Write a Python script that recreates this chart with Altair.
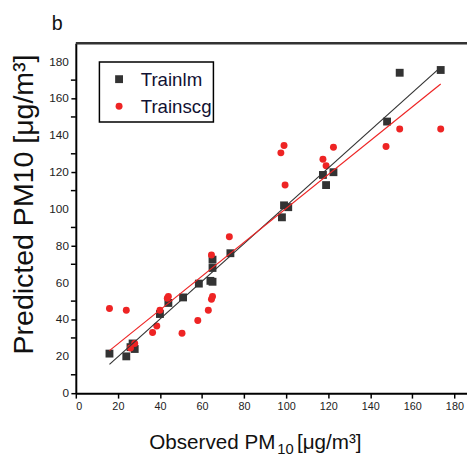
import altair as alt
import pandas as pd

# ---- data ----
lm_obs = [16, 24, 26, 27, 28, 40, 44, 51, 58.5, 64, 65, 65, 65, 73.5, 98, 99, 101, 117.5, 119, 122.5, 148, 154, 173.5]
lm_pred = [21.5, 20, 25, 27, 24, 43, 49, 52, 59.5, 61, 60.5, 68, 72.5, 76, 95.5, 102, 101, 118.5, 113, 120, 147.5, 174, 175.5]
scg_obs = [16, 24, 26, 28, 36.5, 38.5, 40, 43.5, 44, 50.5, 58, 63, 64.5, 65, 64.5, 73, 97.5, 99, 99.5, 117.5, 119, 122.5, 147.5, 154, 173.5]
scg_pred = [46, 45, 24.5, 27, 33, 36.5, 45, 51.5, 52.5, 32.5, 39.5, 45, 51, 52.5, 75, 85, 130.5, 134.5, 113, 127, 123.5, 133.5, 134, 143.5, 143.5]
series_names = ["Trainlm", "Trainscg"]
series_colors = ["#333333", "#ee2424"]
x_ticks = list(range(0, 181, 20))
y_ticks = list(range(0, 181, 20))
y_tick_labels = [str(v) for v in y_ticks]
y_minor = list(range(10, 181, 20))

df = pd.DataFrame({
    "obs": lm_obs + scg_obs,
    "pred": lm_pred + scg_pred,
    "series": [series_names[0]] * len(lm_obs) + [series_names[1]] * len(scg_obs),
})

FONT = "Liberation Sans, Arial, sans-serif"
W, H = 398, 356

xs = alt.Scale(domain=[0, 186], nice=False, zero=False)
ys = alt.Scale(domain=[0, 190], nice=False, zero=False)
color_scale = alt.Scale(domain=series_names, range=series_colors)

x_axis = alt.Axis(values=x_ticks, title=None, grid=False, domainWidth=2, domainColor="black",
                  tickColor="black", tickWidth=1.5, tickSize=5, labelFont=FONT, labelFontSize=11,
                  labelColor="#222222", labelPadding=3, labelOverlap=False)
y_axis = alt.Axis(values=y_ticks, title=None, grid=False, domainWidth=2, domainColor="black",
                  tickColor="black", tickWidth=1.5, tickSize=5, labels=False)

points = alt.Chart(df).mark_point(filled=True, opacity=1).encode(
    x=alt.X("obs:Q", scale=xs, axis=x_axis),
    y=alt.Y("pred:Q", scale=ys, axis=y_axis),
    color=alt.Color("series:N", scale=color_scale, legend=None),
    shape=alt.Shape("series:N", scale=alt.Scale(domain=series_names, range=["square", "circle"]), legend=None),
    size=alt.Size("series:N", scale=alt.Scale(domain=series_names, range=[64, 50]), legend=None),
)

lines = alt.Chart(df).transform_regression("obs", "pred", groupby=["series"]).mark_line(strokeWidth=1.2).encode(
    x=alt.X("obs:Q", scale=xs),
    y=alt.Y("pred:Q", scale=ys),
    color=alt.Color("series:N", scale=color_scale, legend=None),
)

minor = alt.Chart(pd.DataFrame({"pred": y_minor})).mark_rule(color="black", strokeWidth=1.5).encode(
    y=alt.Y("pred:Q", scale=ys), x=alt.value(-5), x2=alt.value(0))

ylabels = alt.Chart(pd.DataFrame({"pred": y_ticks, "lab": y_tick_labels})).mark_text(
    font=FONT, fontSize=12, align="right", baseline="middle", color="#222222").encode(
    y=alt.Y("pred:Q", scale=ys), x=alt.value(-7), text="lab:N")

one = pd.DataFrame({"a": [0]})
top_border = alt.Chart(one).mark_rule(color="#333333", strokeWidth=2.5).encode(
    x=alt.value(0), x2=alt.value(W), y=alt.value(0))

# legend (manual box)
leg_df = pd.DataFrame({"series": series_names})
leg_box = alt.Chart(one).mark_rect(fill="white", stroke="black", strokeWidth=1.5).encode(
    x=alt.value(24), x2=alt.value(140), y=alt.value(19), y2=alt.value(80))
leg_sq = alt.Chart(leg_df.iloc[[0]]).mark_point(filled=True, opacity=1, shape="square", size=64, color=series_colors[0]).encode(
    x=alt.value(44), y=alt.value(36.5))
leg_ci = alt.Chart(leg_df.iloc[[1]]).mark_point(filled=True, opacity=1, shape="circle", size=50, color=series_colors[1]).encode(
    x=alt.value(44), y=alt.value(64))
leg_t1 = alt.Chart(leg_df.iloc[[0]]).mark_text(font=FONT, fontSize=19, align="left", baseline="middle", color="#111133").encode(
    x=alt.value(66), y=alt.value(37.5), text="series:N")
leg_t2 = alt.Chart(leg_df.iloc[[1]]).mark_text(font=FONT, fontSize=19, align="left", baseline="middle", color="#111133").encode(
    x=alt.value(66), y=alt.value(65), text="series:N")

# titles
xt1 = alt.Chart(one).mark_text(font=FONT, fontSize=21, align="right", baseline="alphabetic", color="#111111").encode(
    x=alt.value(203), y=alt.value(H + 57), text=alt.value("Observed PM"))
xt2 = alt.Chart(one).mark_text(font=FONT, fontSize=15, align="left", baseline="alphabetic", color="#111111").encode(
    x=alt.value(205), y=alt.value(H + 62), text=alt.value("10"))
xt3 = alt.Chart(one).mark_text(font=FONT, fontSize=21, align="left", baseline="alphabetic", color="#111111").encode(
    x=alt.value(225), y=alt.value(H + 57), text=alt.value("[μg/m³]"))
yt = alt.Chart(one).mark_text(font=FONT, fontSize=29, align="center", baseline="alphabetic", angle=270, color="#111111").encode(
    x=alt.value(-44), y=alt.value(164), text=alt.value("Predicted PM10 [μg/m³]"))
bt = alt.Chart(one).mark_text(font=FONT, fontSize=20, align="center", baseline="alphabetic", color="#111111").encode(
    x=alt.value(-19), y=alt.value(-14), text=alt.value("b"))

chart = alt.layer(
    points, lines, minor, ylabels, top_border, leg_box, leg_sq, leg_ci, leg_t1, leg_t2, xt1, xt2, xt3, yt, bt
).properties(
    width=W, height=H,
    autosize=alt.AutoSizeParams(type="none"),
    padding={"left": 69, "top": 32, "right": 0, "bottom": 60},
).configure_view(stroke=None).configure(background="white")

chart.save("out.html", embed_options={"renderer": "svg", "actions": False})
